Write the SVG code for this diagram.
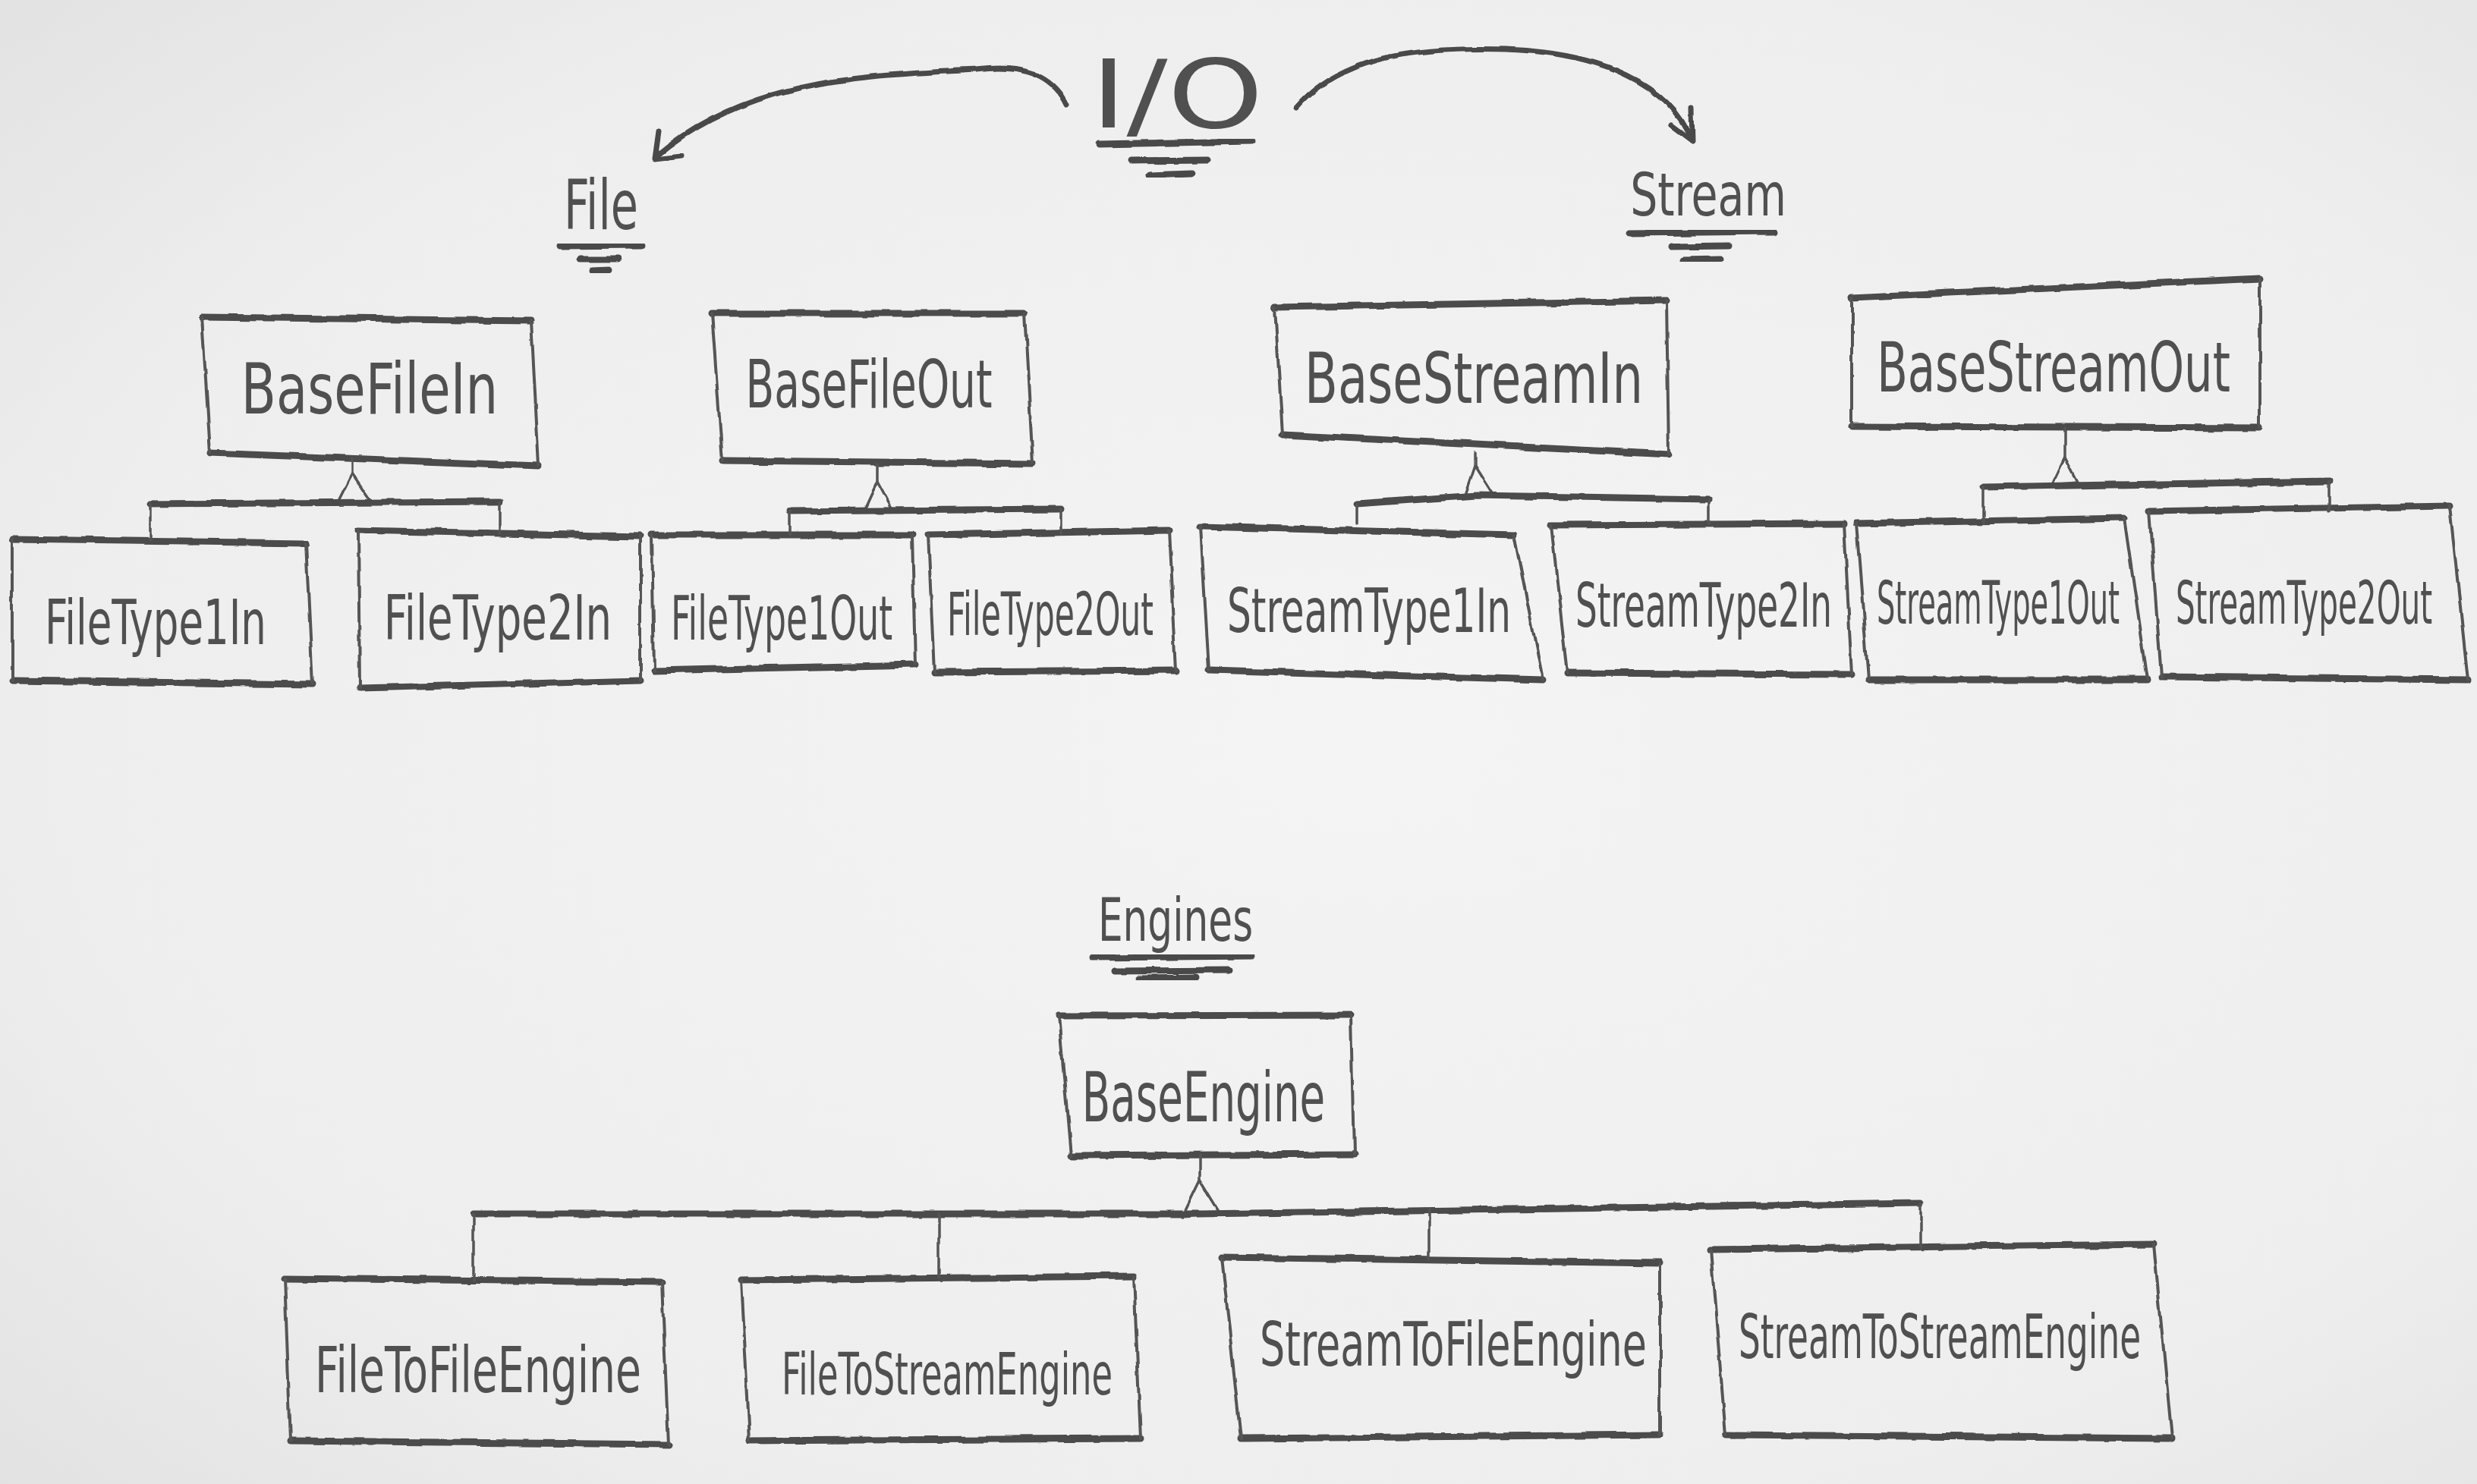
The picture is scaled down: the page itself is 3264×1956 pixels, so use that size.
<svg xmlns="http://www.w3.org/2000/svg" width="3264" height="1956" viewBox="0 0 3264 1956">
<defs>
<style>
.h{stroke:#4c4c4c;stroke-width:9;fill:none;stroke-linecap:round;stroke-linejoin:round}
.v{stroke:#555;stroke-width:4;fill:none;stroke-linecap:round}
.c{stroke:#555;stroke-width:3.5;fill:none;stroke-linecap:round;stroke-linejoin:round}
.a{stroke:#4a4a4a;stroke-width:7;fill:none;stroke-linecap:round;stroke-linejoin:round}
.u{stroke:#4a4a4a;stroke-width:9;fill:none;stroke-linecap:round}
.t{font-family:"DejaVu Sans Condensed","DejaVu Sans",sans-serif;fill:#505050;text-anchor:middle}
.rough{filter:url(#rough)}
</style>
<radialGradient id="paper" cx="0.55" cy="0.5" r="0.75">
<stop offset="0" stop-color="#f4f4f4"/>
<stop offset="0.7" stop-color="#eeeeee"/>
<stop offset="1" stop-color="#e2e2e2"/>
</radialGradient>
<filter id="rough" x="-5%" y="-5%" width="110%" height="110%">
<feTurbulence type="fractalNoise" baseFrequency="0.03" numOctaves="2" seed="3" result="n"/>
<feDisplacementMap in="SourceGraphic" in2="n" scale="6" xChannelSelector="R" yChannelSelector="G"/>
</filter>
</defs>
<rect x="0" y="0" width="3264" height="1956" fill="url(#paper)"/>

<g id="title-io">
<text class="t" transform="translate(1551,168) scale(1.43,1)" font-size="125" textLength="159" lengthAdjust="spacingAndGlyphs">I/O</text>
<g class="rough">
<path class="u" d="M1448,190 L1649,186"/>
<path class="u" d="M1490,212 L1591,211"/>
<path class="u" d="M1515,231 L1570,229"/>
</g>
</g>

<g id="label-file">
<text class="t" transform="translate(792,302) scale(0.69,1)" font-size="90" textLength="142" lengthAdjust="spacingAndGlyphs">File</text>
<g class="rough">
<path class="u" d="M738,324 L846,323"/>
<path class="u" d="M765,342 L814,342"/>
<path class="u" d="M781,358 L803,357"/>
</g>
</g>

<g id="label-stream">
<text class="t" transform="translate(2251,284) scale(0.81,1)" font-size="78" textLength="254" lengthAdjust="spacingAndGlyphs">Stream</text>
<g class="rough">
<path class="u" d="M2148,307 L2338,305"/>
<path class="u" d="M2202,325 L2278,324"/>
<path class="u" d="M2218,343 L2267,342"/>
</g>
</g>

<g id="label-engines">
<text class="t" transform="translate(1549,1240) scale(0.74,1)" font-size="78" textLength="276" lengthAdjust="spacingAndGlyphs">Engines</text>
<g class="rough">
<path class="u" d="M1440,1262 L1650,1260"/>
<path class="u" d="M1469,1280 L1619,1279"/>
<path class="u" d="M1502,1290 L1577,1289"/>
</g>
</g>

<g id="BaseFileIn">
<g class="rough"><path class="h" d="M266,418 L700,423 M277,597 L710,614"/><path class="v" d="M266,418 L277,597 M700,423 L710,614"/></g>
<text class="t" transform="translate(487,545) scale(0.8,1)" font-size="92" textLength="423" lengthAdjust="spacingAndGlyphs">BaseFileIn</text>
</g>
<g id="BaseFileOut">
<g class="rough"><path class="h" d="M938,413 L1350,413 M952,607 L1361,611"/><path class="v" d="M938,413 L952,607 M1350,413 L1361,611"/></g>
<text class="t" transform="translate(1145,537) scale(0.69,1)" font-size="88" textLength="471" lengthAdjust="spacingAndGlyphs">BaseFileOut</text>
</g>
<g id="BaseStreamIn">
<g class="rough"><path class="h" d="M1680,405 L2196,396 M1690,573 L2199,599"/><path class="v" d="M1680,405 L1690,573 M2196,396 L2199,599"/></g>
<text class="t" transform="translate(1942,531) scale(0.77,1)" font-size="92" textLength="579" lengthAdjust="spacingAndGlyphs">BaseStreamIn</text>
</g>
<g id="BaseStreamOut">
<g class="rough"><path class="h" d="M2440,392 L2978,367 M2440,562 L2978,564"/><path class="v" d="M2440,392 L2440,562 M2978,367 L2978,564"/></g>
<text class="t" transform="translate(2706,516) scale(0.73,1)" font-size="90" textLength="638" lengthAdjust="spacingAndGlyphs">BaseStreamOut</text>
</g>

<g id="FileType1In">
<g class="rough"><path class="h" d="M16,711 L403,716 M16,897 L412,902"/><path class="v" d="M16,711 L16,897 M403,716 L412,902"/></g>
<text class="t" transform="translate(205,849) scale(0.69,1)" font-size="82" textLength="423" lengthAdjust="spacingAndGlyphs">FileType1In</text>
</g>
<g id="FileType2In">
<g class="rough"><path class="h" d="M472,699 L844,707 M474,907 L844,897"/><path class="v" d="M472,699 L474,907 M844,707 L844,897"/></g>
<text class="t" transform="translate(656,843) scale(0.71,1)" font-size="82" textLength="423" lengthAdjust="spacingAndGlyphs">FileType2In</text>
</g>
<g id="FileType1Out">
<g class="rough"><path class="h" d="M859,705 L1202,705 M862,884 L1206,876"/><path class="v" d="M859,705 L862,884 M1202,705 L1206,876"/></g>
<text class="t" transform="translate(1030,843) scale(0.61,1)" font-size="80" textLength="479" lengthAdjust="spacingAndGlyphs">FileType1Out</text>
</g>
<g id="FileType2Out">
<g class="rough"><path class="h" d="M1223,705 L1540,699 M1231,886 L1549,884"/><path class="v" d="M1223,705 L1231,886 M1540,699 L1549,884"/></g>
<text class="t" transform="translate(1384,837) scale(0.58,1)" font-size="78" textLength="469" lengthAdjust="spacingAndGlyphs">FileType2Out</text>
</g>
<g id="StreamType1In">
<g class="rough"><path class="h" d="M1582,694 L1995,705 M1593,883 L2033,896"/><path class="v" d="M1582,694 L1593,883 M1995,705 L2033,896"/></g>
<text class="t" transform="translate(1804,833) scale(0.68,1)" font-size="80" textLength="550" lengthAdjust="spacingAndGlyphs">StreamType1In</text>
</g>
<g id="StreamType2In">
<g class="rough"><path class="h" d="M2044,692 L2430,690 M2065,887 L2440,889"/><path class="v" d="M2044,692 L2065,887 M2430,690 L2440,889"/></g>
<text class="t" transform="translate(2245,826) scale(0.61,1)" font-size="80" textLength="554" lengthAdjust="spacingAndGlyphs">StreamType2In</text>
</g>
<g id="StreamType1Out">
<g class="rough"><path class="h" d="M2446,690 L2799,683 M2462,896 L2830,896"/><path class="v" d="M2446,690 L2462,896 M2799,683 L2830,896"/></g>
<text class="t" transform="translate(2633,822) scale(0.53,1)" font-size="78" textLength="604" lengthAdjust="spacingAndGlyphs">StreamType1Out</text>
</g>
<g id="StreamType2Out">
<g class="rough"><path class="h" d="M2832,674 L3228,667 M2848,892 L3252,896"/><path class="v" d="M2832,674 L2848,892 M3228,667 L3252,896"/></g>
<text class="t" transform="translate(3036,822) scale(0.56,1)" font-size="78" textLength="604" lengthAdjust="spacingAndGlyphs">StreamType2Out</text>
</g>

<g id="BaseEngine">
<g class="rough"><path class="h" d="M1395,1339 L1780,1338 M1411,1523 L1784,1521"/><path class="v" d="M1395,1339 L1411,1523 M1780,1338 L1784,1521"/></g>
<text class="t" transform="translate(1586,1478) scale(0.67,1)" font-size="90" textLength="478" lengthAdjust="spacingAndGlyphs">BaseEngine</text>
</g>
<g id="FileToFileEngine">
<g class="rough"><path class="h" d="M375,1685 L872,1690 M383,1899 L881,1904"/><path class="v" d="M375,1685 L383,1899 M872,1690 L881,1904"/></g>
<text class="t" transform="translate(630,1835) scale(0.7,1)" font-size="84" textLength="614" lengthAdjust="spacingAndGlyphs">FileToFileEngine</text>
</g>
<g id="FileToStreamEngine">
<g class="rough"><path class="h" d="M977,1687 L1494,1682 M988,1899 L1503,1896"/><path class="v" d="M977,1687 L988,1899 M1494,1682 L1503,1896"/></g>
<text class="t" transform="translate(1248,1838) scale(0.63,1)" font-size="76" textLength="692" lengthAdjust="spacingAndGlyphs">FileToStreamEngine</text>
</g>
<g id="StreamToFileEngine">
<g class="rough"><path class="h" d="M1610,1657 L2187,1665 M1635,1896 L2187,1891"/><path class="v" d="M1610,1657 L1635,1896 M2187,1665 L2187,1891"/></g>
<text class="t" transform="translate(1915,1800) scale(0.71,1)" font-size="80" textLength="718" lengthAdjust="spacingAndGlyphs">StreamToFileEngine</text>
</g>
<g id="StreamToStreamEngine">
<g class="rough"><path class="h" d="M2254,1647 L2838,1640 M2274,1891 L2862,1896"/><path class="v" d="M2254,1647 L2274,1891 M2838,1640 L2862,1896"/></g>
<text class="t" transform="translate(2556,1790) scale(0.62,1)" font-size="80" textLength="855" lengthAdjust="spacingAndGlyphs">StreamToStreamEngine</text>
</g>

<g id="connectors">
<g class="rough">
<path class="a" d="M1405,138 C1385,95 1340,85 1286,92 C1150,100 990,100 866,205"/>
<path class="a" d="M868,174 L863,210 L898,206"/>
<path class="a" d="M1709,142 C1770,70 1880,62 1985,65 C2110,70 2200,110 2229,185"/>
<path class="a" d="M2202,165 L2230,186 L2229,142"/>

<path class="c" d="M464,605 L464,624"/>
<path class="c" d="M464,624 L444,664 L490,662 Z"/>
<path class="h" d="M198,664 L658,661"/>
<path class="c" d="M198,664 L198,712 M658,661 L658,703"/>

<path class="c" d="M1156,611 L1156,635"/>
<path class="c" d="M1156,635 L1138,674 L1176,672 Z"/>
<path class="h" d="M1041,674 L1398,671"/>
<path class="c" d="M1041,674 L1041,705 M1398,671 L1398,704"/>

<path class="c" d="M1943,597 L1943,614"/>
<path class="c" d="M1943,614 L1929,655 L1967,652 Z"/>
<path class="h" d="M1788,664 L1945,653 L2252,658"/>
<path class="c" d="M1788,664 L1788,690 M2252,658 L2252,691"/>

<path class="c" d="M2721,564 L2721,603"/>
<path class="c" d="M2721,603 L2704,639 L2738,636 Z"/>
<path class="h" d="M2614,642 L3069,634"/>
<path class="c" d="M2614,642 L2614,688 M3069,634 L3069,675"/>

<path class="c" d="M1581,1522 L1581,1556"/>
<path class="c" d="M1581,1556 L1558,1604 L1608,1600 Z"/>
<path class="h" d="M624,1600 L1580,1600 L2531,1586"/>
<path class="c" d="M624,1600 L624,1688 M1237,1600 L1237,1684 M1884,1594 L1884,1660 M2531,1586 L2531,1645"/>
</g>
</g>
</svg>
